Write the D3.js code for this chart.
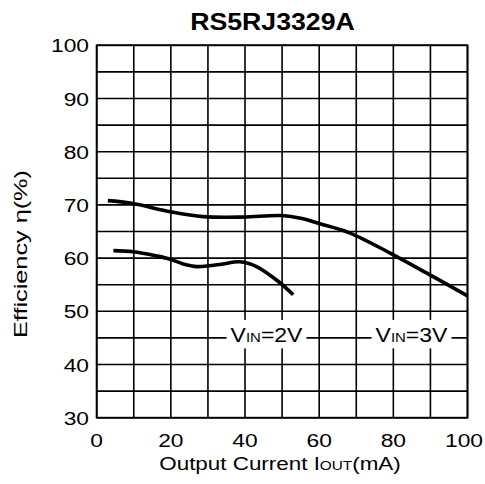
<!DOCTYPE html>
<html><head><meta charset="utf-8">
<script src="https://cdn.jsdelivr.net/npm/d3@7"></script>
<style>html,body{margin:0;padding:0;background:#fff;}svg{display:block;font-family:"Liberation Sans",Arial,sans-serif;}</style>
</head><body>
<svg id="c" width="485" height="484"></svg>
<script>
const title = "RS5RJ3329A";
const xTickLabels = [0, 20, 40, 60, 80, 100];
const yTickLabels = [30, 40, 50, 60, 70, 80, 90, 100];
const xGrid = [0,10,20,30,40,50,60,70,80,90,100];
const yGrid = [30,35,40,45,50,55,60,65,70,75,80,85,90,95,100];
// VIN = 3V
const vin3I = [3, 9.4, 20, 28.7, 38.6, 45, 50, 55, 60, 68, 79, 90, 100];
const vin3Eff = [70.8, 70.3, 68.7, 67.8, 67.7, 67.9, 68.0, 67.5, 66.5, 64.8, 61.0, 56.8, 52.9];
// VIN = 2V
const vin2I = [4.5, 9.9, 16.2, 19.8, 23.3, 27, 33.2, 38.6, 43.1, 49, 53];
const vin2Eff = [61.4, 61.2, 60.4, 59.8, 58.9, 58.4, 58.8, 59.3, 58.4, 55.6, 53.1];
// label anchors (mA, %)
const labelNames = ["2V", "3V"];
const labelX = [45.8, 84.9];
const labelY = [45, 45];

const W = 485;
const svg = d3.select("#c");
const x = d3.scaleLinear().domain([0, 100]).range([96.7, 467.5]);
const y = d3.scaleLinear().domain([30, 100]).range([417.7, 45.3]);

// grid
const g = svg.append("g");
g.selectAll(".vg").data(xGrid).enter().append("line")
  .attr("x1", d => x(d)).attr("x2", d => x(d)).attr("y1", y(30)).attr("y2", y(100))
  .attr("stroke", "#000").attr("stroke-width", 1.6);
g.selectAll(".hg").data(yGrid).enter().append("line")
  .attr("y1", d => y(d)).attr("y2", d => y(d)).attr("x1", x(0)).attr("x2", x(100))
  .attr("stroke", "#000").attr("stroke-width", 1.6);
g.append("rect").attr("x", x(0)).attr("y", y(100)).attr("width", x(100) - x(0)).attr("height", y(30) - y(100))
  .attr("fill", "none").attr("stroke", "#000").attr("stroke-width", 1.8);

// curves
const line = d3.line().x(d => x(d[0])).y(d => y(d[1])).curve(d3.curveCatmullRom.alpha(0.5));
const s3 = vin3I.map((v, i) => [v, vin3Eff[i]]);
const s2 = vin2I.map((v, i) => [v, vin2Eff[i]]);
[s3, s2].forEach(s => {
  svg.append("path").attr("d", line(s)).attr("fill", "none").attr("stroke", "#000").attr("stroke-width", 3.6);
});

// labels with white boxes
labelNames.forEach((n, i) => {
  const cx = x(labelX[i]), cy = y(labelY[i]);
  svg.append("rect").attr("x", cx - 40).attr("y", cy - 18).attr("width", 80).attr("height", 28.5).attr("fill", "#fff");
  const t = svg.append("text").attr("transform", `translate(${cx},${cy + 4}) scale(1.15,1)`)
    .attr("text-anchor", "middle").attr("font-size", 20).attr("fill", "#000");
  t.append("tspan").text("V");
  t.append("tspan").attr("font-size", 13).text("IN");
  t.append("tspan").text("=" + n);
});

// tick labels (keep the last one inside the page)
const xs = 1.2;
svg.selectAll(".xt").data(xTickLabels).enter().append("text")
  .attr("text-anchor", "middle").attr("font-size", 19).text(d => d)
  .each(function(d) {
    const w = this.getComputedTextLength() * xs;
    const cx = Math.min(x(d), W - 2 - w / 2);
    d3.select(this).attr("transform", `translate(${cx},446.5) scale(${xs},1)`);
  });
svg.selectAll(".yt").data(yTickLabels).enter().append("text")
  .attr("transform", d => `translate(89,${y(d) + 7}) scale(1.2,1)`)
  .attr("text-anchor", "end").attr("font-size", 19).text(d => d);

// title
svg.append("text").attr("transform", "translate(272.5,30) scale(1.16,1)")
  .attr("text-anchor", "middle").attr("font-size", 23).attr("font-weight", "bold").text(title);

// x title
const xt = svg.append("text").attr("transform", "translate(280,470) scale(1.18,1)")
  .attr("text-anchor", "middle").attr("font-size", 19);
xt.append("tspan").text("Output Current I");
xt.append("tspan").attr("font-size", 13).text("OUT");
xt.append("tspan").text("(mA)");

// y title
svg.append("text").attr("transform", "translate(26.7,254) rotate(-90) scale(1.33,1)")
  .attr("text-anchor", "middle").attr("font-size", 19).text("Efficiency η(%)");
</script>
</body></html>
